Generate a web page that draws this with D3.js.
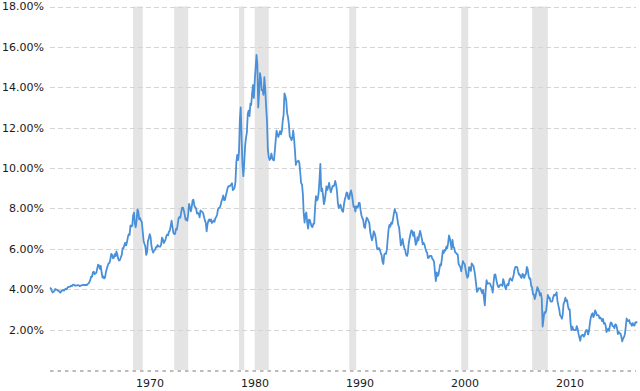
<!DOCTYPE html>
<html>
<head>
<meta charset="utf-8">
<script src="https://cdn.jsdelivr.net/npm/d3@7"></script>
<style>
  html, body { margin: 0; padding: 0; background: #fff; }
  svg { display: block; }
  text { font-family: "DejaVu Sans", Verdana, sans-serif; fill: #1a1a1a; }
</style>
</head>
<body>
<svg id="chart" width="640" height="391"></svg>
<script>
// ---- DATA: 10-year Treasury yield (%), monthly, starting Jan 1962 ----
const startYear = 1962;
const y1960s = [
  4.08, 4.04, 3.93, 3.84, 3.87, 3.91, 4.01, 3.98, 3.98, 3.93, 3.92, 3.86,
  3.83, 3.92, 3.93, 3.97, 3.93, 3.99, 4.02, 4.00, 4.08, 4.11, 4.12, 4.13,
  4.17, 4.15, 4.22, 4.23, 4.20, 4.17, 4.19, 4.19, 4.20, 4.19, 4.15, 4.18,
  4.19, 4.21, 4.21, 4.20, 4.21, 4.21, 4.20, 4.25, 4.29, 4.35, 4.45, 4.62,
  4.61, 4.83, 4.87, 4.75, 4.78, 4.81, 5.02, 5.22, 5.18, 5.01, 5.16, 4.84,
  4.58, 4.63, 4.54, 4.59, 4.85, 5.02, 5.16, 5.28, 5.30, 5.48, 5.75, 5.70,
  5.53, 5.56, 5.74, 5.64, 5.87, 5.72, 5.50, 5.42, 5.46, 5.58, 5.70, 6.03,
  6.04, 6.19, 6.30, 6.17, 6.32, 6.57, 6.72, 6.69, 7.16, 7.10, 7.14, 7.65
];
const y1970s = [
  7.79, 7.24, 7.07, 7.39, 7.95, 7.84, 7.46, 7.53, 7.39, 7.33, 6.84, 6.39,
  6.24, 6.11, 5.70, 5.83, 6.39, 6.52, 6.73, 6.58, 6.14, 5.93, 5.81, 5.93,
  5.95, 6.08, 6.07, 6.19, 6.13, 6.11, 6.11, 6.21, 6.55, 6.48, 6.28, 6.36,
  6.46, 6.64, 6.71, 6.67, 6.85, 6.90, 7.13, 7.40, 7.09, 6.79, 6.73, 6.74,
  6.99, 6.96, 7.21, 7.51, 7.58, 7.54, 7.81, 8.04, 8.04, 7.90, 7.68, 7.43,
  7.50, 7.39, 7.73, 8.23, 8.06, 7.86, 8.06, 8.40, 8.43, 8.14, 8.05, 8.00,
  7.74, 7.79, 7.73, 7.56, 7.90, 7.86, 7.83, 7.77, 7.59, 7.41, 7.29, 6.87,
  7.21, 7.39, 7.46, 7.37, 7.46, 7.28, 7.33, 7.40, 7.34, 7.52, 7.58, 7.69,
  7.96, 8.03, 8.04, 8.15, 8.35, 8.46, 8.64, 8.41, 8.42, 8.64, 8.81, 9.01,
  9.10, 9.10, 9.12, 9.18, 9.25, 8.91, 8.95, 9.03, 9.33, 10.30, 10.65, 10.39
];
const y1980s = [
  10.80, 12.41, 13.00, 11.47, 10.18, 9.60, 10.25, 11.10, 11.51, 11.75, 12.68, 12.84,
  12.57, 13.19, 13.12, 13.68, 14.10, 13.47, 14.28, 14.94, 15.60, 15.15, 13.00, 13.72,
  14.70, 14.43, 13.86, 13.87, 13.62, 14.50, 13.95, 13.06, 12.34, 10.91, 10.55, 10.40,
  10.46, 10.72, 10.51, 10.40, 10.38, 10.85, 11.38, 11.85, 11.65, 11.54, 11.69, 11.83,
  11.67, 11.84, 12.32, 12.63, 13.70, 13.56, 13.36, 12.72, 12.52, 12.16, 11.57, 11.50,
  11.38, 11.51, 11.86, 11.43, 10.85, 10.16, 10.31, 10.33, 10.37, 10.24, 9.78, 9.26,
  9.19, 8.70, 7.78, 7.30, 7.71, 7.80, 7.30, 7.00, 7.45, 7.43, 7.25, 7.11,
  7.08, 7.25, 7.25, 8.02, 8.61, 8.40, 8.45, 8.76, 9.42, 10.20, 8.86, 8.99,
  8.67, 8.21, 8.37, 8.72, 9.09, 8.92, 9.06, 9.26, 8.98, 8.80, 8.96, 9.11,
  9.09, 9.17, 9.36, 9.18, 8.86, 8.28, 8.02, 8.11, 8.19, 8.01, 7.87, 7.84
];
const y1990s = [
  8.21, 8.47, 8.59, 8.79, 8.76, 8.48, 8.47, 8.75, 8.89, 8.72, 8.39, 8.08,
  8.09, 7.85, 8.11, 8.04, 8.07, 8.28, 8.27, 7.90, 7.65, 7.53, 7.42, 7.09,
  7.03, 7.34, 7.54, 7.48, 7.39, 7.26, 6.84, 6.59, 6.42, 6.59, 6.87, 6.77,
  6.60, 6.26, 5.98, 5.97, 6.04, 5.96, 5.81, 5.68, 5.36, 5.25, 5.72, 5.77,
  5.75, 5.97, 6.48, 6.97, 7.18, 7.10, 7.30, 7.24, 7.46, 7.74, 7.96, 7.81,
  7.78, 7.47, 7.20, 7.06, 6.63, 6.17, 6.28, 6.49, 6.20, 6.04, 5.93, 5.71,
  5.65, 5.81, 6.27, 6.51, 6.74, 6.91, 6.87, 6.64, 6.83, 6.53, 6.20, 6.30,
  6.58, 6.42, 6.69, 6.89, 6.71, 6.49, 6.22, 6.30, 6.21, 6.03, 5.88, 5.81,
  5.54, 5.57, 5.65, 5.64, 5.65, 5.50, 5.46, 5.34, 4.81, 4.40, 4.83, 4.65,
  4.72, 5.00, 5.23, 5.18, 5.54, 5.90, 5.79, 5.94, 5.92, 6.11, 6.03, 6.28
];
const y2000s = [
  6.66, 6.52, 6.26, 5.99, 6.44, 6.10, 6.05, 5.83, 5.80, 5.74, 5.72, 5.24,
  5.16, 5.10, 4.89, 5.14, 5.39, 5.28, 5.24, 4.97, 4.73, 4.57, 4.65, 5.09,
  5.04, 4.91, 5.28, 5.21, 5.16, 4.93, 4.65, 4.26, 3.87, 3.94, 4.05, 4.03,
  4.05, 3.90, 3.81, 3.96, 3.57, 3.20, 3.98, 4.45, 4.27, 4.29, 4.30, 4.27,
  4.15, 4.08, 3.83, 4.35, 4.72, 4.73, 4.50, 4.28, 4.13, 4.10, 4.19, 4.23,
  4.22, 4.17, 4.50, 4.34, 4.14, 4.00, 4.18, 4.26, 4.20, 4.46, 4.54, 4.47,
  4.42, 4.57, 4.72, 4.99, 5.11, 5.11, 5.09, 4.88, 4.72, 4.73, 4.60, 4.56,
  4.76, 4.72, 4.56, 4.69, 4.75, 5.10, 5.00, 4.67, 4.52, 4.53, 4.15, 4.10,
  3.74, 3.74, 3.51, 3.68, 3.88, 4.10, 4.01, 3.89, 3.69, 3.81, 3.53, 2.15,
  2.52, 2.87, 2.82, 2.93, 3.29, 3.72, 3.56, 3.59, 3.40, 3.39, 3.40, 3.59
];
const y2010s = [
  3.73, 3.69, 3.73, 3.85, 3.42, 3.20, 3.01, 2.70, 2.65, 2.54, 2.76, 3.29,
  3.39, 3.58, 3.41, 3.46, 3.17, 3.00, 3.00, 2.30, 1.98, 2.15, 2.01, 1.98,
  1.97, 1.97, 2.17, 2.05, 1.80, 1.62, 1.45, 1.68, 1.72, 1.75, 1.65, 1.72,
  1.91, 1.98, 1.96, 1.76, 1.93, 2.30, 2.58, 2.74, 2.81, 2.62, 2.72, 2.95,
  2.86, 2.71, 2.72, 2.71, 2.56, 2.60, 2.54, 2.42, 2.53, 2.30, 2.33, 2.21,
  1.88, 1.98, 2.04, 1.94, 2.20, 2.36, 2.32, 2.17, 2.17, 2.07, 2.26, 2.24,
  2.09, 1.78, 1.89, 1.81, 1.81, 1.64, 1.42, 1.56, 1.63, 1.76, 2.14, 2.55,
  2.43, 2.42, 2.48, 2.30, 2.30, 2.19, 2.32, 2.21, 2.20, 2.36, 2.35, 2.40
];
// recession periods (start month, end month)
const recessionStarts = ["1969-12", "1973-11", "1980-01", "1981-07", "1990-07", "2001-03", "2007-12"];
const recessionEnds   = ["1970-11", "1975-03", "1980-07", "1982-11", "1991-03", "2001-11", "2009-06"];
// axis ticks
const yTicks = [2, 4, 6, 8, 10, 12, 14, 16, 18];
const xTickYears = [1970, 1980, 1990, 2000, 2010];

(function () {
  // ---- build series ----
  const values = [].concat(y1960s, y1970s, y1980s, y1990s, y2000s, y2010s);
  const series = values.map((v, i) => ({ date: new Date(startYear, i, 1), value: v }));
  const parseMonth = d3.timeParse("%Y-%m");
  const recessions = recessionStarts.map((s, i) => ({ start: parseMonth(s), end: parseMonth(recessionEnds[i]) }));

  // ---- layout ----
  const svg = d3.select("#chart");
  const mLeft = 50, mRight = 638, mTop = 6.5, mBottom = 370;
  const gridRight = 636;

  const x = d3.scaleTime()
    .domain([new Date(1962, 0, 1), new Date(2018, 0, 1)])
    .range([mLeft, mRight]);
  const y = d3.scaleLinear().domain([0, 18]).range([mBottom, mTop]);

  // recession bars
  svg.append("g").selectAll("rect")
    .data(recessions)
    .enter().append("rect")
    .attr("x", d => x(d.start))
    .attr("width", d => x(d.end) - x(d.start))
    .attr("y", y(18))
    .attr("height", y(0) - y(18))
    .attr("fill", "#e4e4e4");

  // horizontal gridlines
  svg.append("g").selectAll("line")
    .data(yTicks)
    .enter().append("line")
    .attr("x1", mLeft).attr("x2", gridRight)
    .attr("y1", d => Math.round(y(d)) + 0.5).attr("y2", d => Math.round(y(d)) + 0.5)
    .attr("stroke", "#d4d4d4")
    .attr("stroke-width", 1)
    .attr("stroke-dasharray", "5,3");

  // bottom baseline
  svg.append("line")
    .attr("x1", mLeft).attr("x2", gridRight)
    .attr("y1", y(0) + 1).attr("y2", y(0) + 1)
    .attr("stroke", "#bcbcbc")
    .attr("stroke-width", 2)
    .attr("stroke-dasharray", "3.5,4");

  // y labels
  svg.append("g").selectAll("text")
    .data(yTicks)
    .enter().append("text")
    .attr("x", 44)
    .attr("y", d => y(d))
    .attr("dy", "0.36em")
    .attr("text-anchor", "end")
    .attr("font-size", "11px")
    .text(d => d3.format(".2f")(d) + "%");

  // x labels
  const labelShift = 16;
  svg.append("g").selectAll("text")
    .data(xTickYears)
    .enter().append("text")
    .attr("x", d => x(new Date(d, 0, 1)) + labelShift)
    .attr("y", 387)
    .attr("text-anchor", "middle")
    .attr("font-size", "11px")
    .text(d => d);

  // line
  const line = d3.line()
    .x(d => x(d.date))
    .y(d => y(d.value));
  svg.append("path")
    .datum(series)
    .attr("fill", "none")
    .attr("stroke", "#4a90d9")
    .attr("stroke-width", 1.8)
    .attr("stroke-linejoin", "round")
    .attr("d", line);
})();
</script>
</body>
</html>
